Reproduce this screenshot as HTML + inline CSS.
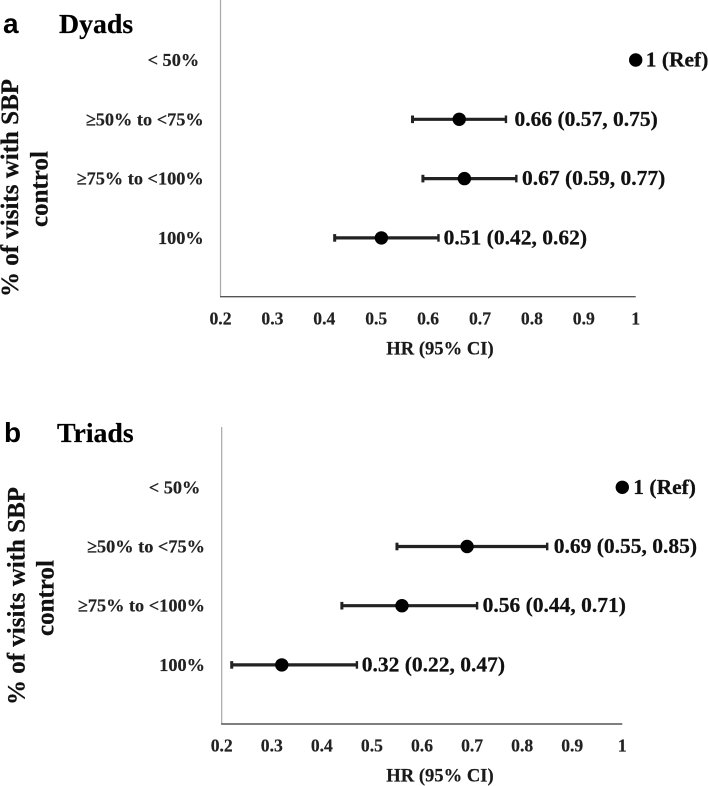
<!DOCTYPE html>
<html lang="en">
<head>
<meta charset="utf-8">
<title>Hazard ratios by SBP control</title>
<style>
html,body{margin:0;padding:0;background:#fff;}
svg{display:block;}
text{font-family:"Liberation Serif",serif;font-weight:bold;fill:#1c1c1c;}
.panel-letter{font-family:"Liberation Sans",sans-serif;fill:#000;font-size:28px;}
.panel-title{fill:#000;font-size:27.8px;stroke:#000;stroke-width:.2px;}
.y-title{fill:#111;font-size:25px;stroke:#111;stroke-width:.25px;}
.cat{font-size:18.3px;fill:#222;stroke:#222;stroke-width:.2px;}
.tick{font-size:17.6px;fill:#222;stroke:#222;stroke-width:.2px;}
.x-title{font-size:18.6px;fill:#1a1a1a;stroke:#1a1a1a;stroke-width:.2px;}
.val{font-size:21.5px;fill:#111;stroke:#111;stroke-width:.25px;}
</style>
</head>
<body>
<svg id="chart" xmlns="http://www.w3.org/2000/svg" width="708" height="786" viewBox="0 0 708 786"></svg>
<script>
const categories = ["< 50%\u00a0", "\u226550% to <75%", "\u226575% to <100%", "100%"];
const tickValues = [0.2, 0.3, 0.4, 0.5, 0.6, 0.7, 0.8, 0.9, 1];
const dyadHR = [1, 0.66, 0.67, 0.51];
const dyadLow = [null, 0.57, 0.59, 0.42];
const dyadHigh = [null, 0.75, 0.77, 0.62];
const triadHR = [1, 0.69, 0.56, 0.32];
const triadLow = [null, 0.55, 0.44, 0.22];
const triadHigh = [null, 0.85, 0.71, 0.47];

const NS = "http://www.w3.org/2000/svg";
const svg = document.getElementById("chart");

function make(tag, parent, attrs, content) {
  const el = document.createElementNS(NS, tag);
  for (const k in attrs) el.setAttribute(k, attrs[k]);
  if (content !== undefined) el.textContent = content;
  parent.appendChild(el);
  return el;
}

function drawPanel(p, hr, low, high) {
  const x = v => p.x0 + (v - 0.2) / 0.8 * (p.x1 - p.x0);
  const y = i => p.y0 + i * p.step;

  const g = make("g", svg, {});
  
  

  const letter = make("text", g, {class: "panel-letter", x: p.letterX, y: p.titleY}, p.letter);
  
  

  const title = make("text", g, {class: "panel-title", x: p.titleX, y: p.titleY}, p.title);
  
  

  const t1 = make("text", g, {class: "y-title", "text-anchor": "middle",
    transform: "translate(" + p.yt1X + "," + p.yt1Y + ") rotate(-90)"}, "% of visits with SBP");
  
  

  const t2 = make("text", g, {class: "y-title", "text-anchor": "middle",
    transform: "translate(" + p.yt2X + "," + p.yt2Y + ") rotate(-90)"}, "control");
  
  

  const yAxis = make("line", g, {x1: p.x0, x2: p.x0, y1: p.top, y2: p.base, stroke: "#a8a8a8", "stroke-width": 1.2});
  
  

  const xAxis = make("line", g, {x1: p.x0 - 0.5, x2: p.x1, y1: p.base, y2: p.base, stroke: "#555", "stroke-width": 1.4});
  
  

  tickValues.forEach(v => {
    const t = make("text", g, {class: "tick", "text-anchor": "middle", x: x(v), y: p.tickY}, String(v));
    
    
  });

  const xt = make("text", g, {class: "x-title", "text-anchor": "middle", x: 440, y: p.xTitleY}, "HR (95% CI)");
  
  

  categories.forEach((c, i) => {
    const cat = make("text", g, {class: "cat", "text-anchor": "end", x: p.x0 - 16.8, y: y(i) + 6}, c);
    
    

    let end = x(hr[i]);
    if (low[i] !== null) {
      end = x(high[i]);
      const ci = make("line", g, {x1: x(low[i]), x2: x(high[i]), y1: y(i), y2: y(i), stroke: "#222", "stroke-width": 3.2});
      
      

      const capL = make("line", g, {x1: x(low[i]), x2: x(low[i]), y1: y(i) - 3.8, y2: y(i) + 3.8, stroke: "#222", "stroke-width": 3});
      
      

      const capH = make("line", g, {x1: x(high[i]), x2: x(high[i]), y1: y(i) - 3.8, y2: y(i) + 3.8, stroke: "#222", "stroke-width": 2.4});
      
      
    }

    const dot = make("circle", g, {cx: x(hr[i]), cy: y(i), r: 6.7, fill: "#000"});
    
    

    const label = low[i] === null
      ? hr[i] + " (Ref)"
      : hr[i].toFixed(2) + " (" + low[i].toFixed(2) + ", " + high[i].toFixed(2) + ")";
    const val = make("text", g, {class: "val", x: end + p.gaps[i], y: y(i) + 6.5}, label);
    
    
  });
}

drawPanel({key: "dyads", letter: "a", title: "Dyads", letterX: 3, titleX: 59, titleY: 33,
  x0: 220.5, x1: 635.7, top: 0, base: 296.7, y0: 60, step: 59.3, tickY: 324.5, xTitleY: 354.5,
  yt1X: 18, yt1Y: 188, yt2X: 47.5, yt2Y: 189, gaps: [10, 8.5, 5.7, 5.2]},
  dyadHR, dyadLow, dyadHigh);

drawPanel({key: "triads", letter: "b", title: "Triads", letterX: 4, titleX: 57, titleY: 442,
  x0: 221.7, x1: 622.3, top: 427, base: 724, y0: 487.3, step: 59.2, tickY: 751.5, xTitleY: 781.5,
  yt1X: 24.5, yt1Y: 596, yt2X: 53.5, yt2Y: 598, gaps: [11, 6.5, 5.5, 4.8]},
  triadHR, triadLow, triadHigh);
</script>
</body>
</html>
